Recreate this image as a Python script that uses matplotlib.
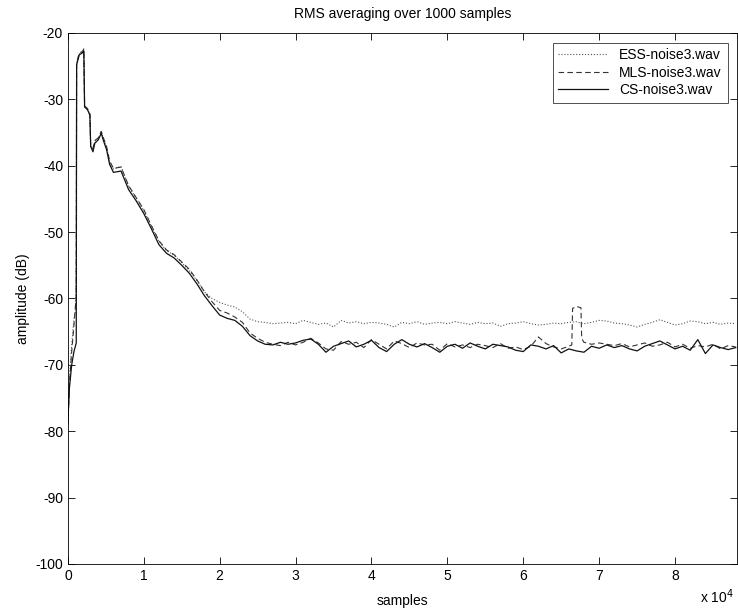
import matplotlib
matplotlib.use("Agg")
import matplotlib.pyplot as plt
import numpy as np

plt.rcParams["font.family"] = ["Liberation Sans", "DejaVu Sans"]
plt.rcParams["axes.unicode_minus"] = False

# start of each curve (samples 0 .. 5500), read by hand
cs_head_x = [0, 200, 500, 800, 1100, 1150, 1500, 1900, 2100, 2200, 2600, 2900, 3000, 3300, 3550, 4000, 4400, 4650, 5100, 5500]
cs_head_y = [-78.5, -73.5, -70.0, -68.0, -66.7, -24.8, -23.3, -23.0, -22.7, -31.1, -31.6, -32.4, -37.1, -37.9, -36.6, -36.1, -35.1, -36.1, -37.6, -39.8]

mls_head_x = [0, 200, 500, 800, 1000, 1100, 1150, 1500, 1900, 2100, 2200, 2600, 2900, 3000, 3300, 3550, 4000, 4400, 4650, 5100, 5500]
mls_head_y = [-79.0, -73.0, -68.0, -64.0, -61.0, -60.5, -24.5, -23.0, -22.8, -22.4, -31.0, -31.4, -32.2, -36.8, -37.4, -36.2, -35.8, -34.8, -35.7, -37.1, -39.3]

ess_head_x = [0, 200, 500, 800, 1000, 1100, 1150, 1500, 1900, 2100, 2200, 2600, 2900, 3000, 3300, 3550, 4000, 4400, 4650, 5100, 5500]
ess_head_y = [-79.0, -72.0, -67.0, -63.0, -62.0, -55.0, -24.5, -23.1, -22.9, -22.5, -31.2, -31.5, -32.3, -36.9, -37.5, -36.3, -35.9, -34.9, -35.8, -37.2, -39.4]

# rest of the curves, one value every 1000 samples from 6000 to 88000
tail_x = np.arange(6000, 89000, 1000)

cs_tail = [
    -41.0, -40.8, -43.6, -45.3, -47.2, -49.5, -51.9, -53.2, -53.9, -55.0,
    -56.2, -57.8, -59.6, -61.1, -62.5, -63.0, -63.3, -64.2, -65.6, -66.4,
    -66.9, -67.0, -66.6, -66.9, -66.7, -66.3, -66.1, -66.9, -68.1, -67.2,
    -66.8, -66.4, -67.3, -66.9, -66.3, -67.4, -68.0, -66.9, -66.2, -66.9,
    -67.3, -66.8, -67.4, -68.1, -67.2, -66.9, -67.5, -66.7, -67.2, -67.6,
    -66.9, -67.1, -67.3, -67.8, -68.0, -67.0, -67.2, -67.6, -67.1, -68.2,
    -67.6, -67.9, -68.1, -67.2, -67.5, -67.0, -67.4, -67.1, -67.6, -67.9,
    -67.2, -66.8, -66.4, -67.0, -67.6, -67.2, -67.8, -66.2, -68.3, -67.0,
    -67.4, -67.7, -67.4,
]

mls_tail = [
    -40.4, -40.2, -43.0, -44.8, -46.6, -49.0, -51.3, -52.7, -53.4, -54.5,
    -55.6, -57.2, -59.0, -60.5, -61.8, -62.2, -62.8, -63.6, -65.2, -66.0,
    -66.6, -66.9, -67.1, -66.6, -67.0, -66.6, -66.0, -66.7, -67.6, -67.8,
    -66.5, -66.9, -66.6, -67.4, -66.2, -66.9, -67.6, -66.4, -66.8, -67.4,
    -66.7, -67.0, -66.9, -67.8, -66.8, -67.3, -67.0, -67.4, -66.9, -67.1,
    -67.4, -66.8, -67.5, -67.3, -67.7, -67.2, -65.8, -66.8, -67.3, -67.6,
    -67.2, -61.2, -66.6, -66.9, -66.7, -66.9, -67.1, -66.8, -67.3, -67.0,
    -66.7, -67.2, -67.0, -66.6, -67.3, -66.9, -67.5, -67.1, -67.3, -66.9,
    -67.6, -67.1, -67.3,
]
# the glitch in the MLS curve near 6.7e4
mls_spike_x = [66400, 66500, 67600, 67700]
mls_spike_y = [-67.0, -61.5, -61.4, -66.0]

ess_tail = [
    -40.5, -40.1, -43.1, -44.9, -46.8, -49.1, -51.4, -52.8, -53.5, -54.6,
    -55.8, -57.3, -59.0, -60.0, -60.6, -61.0, -61.3, -62.0, -63.1, -63.5,
    -63.6, -63.8, -63.7, -63.6, -63.8, -63.3, -63.6, -63.9, -63.7, -64.3,
    -63.3, -63.7, -63.5, -63.8, -63.6, -63.7, -63.9, -64.3, -63.6, -63.8,
    -63.5, -63.9, -63.7, -63.6, -63.8, -63.5, -63.7, -63.9, -63.6, -63.8,
    -63.7, -64.2, -63.8, -63.7, -63.5, -63.8, -64.0, -63.9, -63.7, -63.8,
    -63.6, -63.5, -63.8, -63.6, -63.3, -63.4, -63.7, -63.8, -64.0, -64.3,
    -63.9, -63.6, -63.2, -63.6, -64.0, -63.8, -63.4, -63.5, -63.8, -63.6,
    -63.9, -63.7, -63.8,
]

x_ticks = [0, 10000, 20000, 30000, 40000, 50000, 60000, 70000, 80000]
x_tick_labels = ["0", "1", "2", "3", "4", "5", "6", "7", "8"]
y_ticks = [-100, -90, -80, -70, -60, -50, -40, -30, -20]


def join(head_x, head_y, tail_vals, extra_x=(), extra_y=()):
    x = np.concatenate([head_x, tail_x, extra_x])
    y = np.concatenate([head_y, tail_vals, extra_y])
    order = np.argsort(x, kind="stable")
    return x[order], y[order]


fig = plt.figure(figsize=(7.38, 6.11), dpi=100)
ax = fig.add_axes([0.092, 0.077, 0.907, 0.869])

x, y = join(ess_head_x, ess_head_y, ess_tail)
ax.plot(x, y, linestyle=":", color="#555555", linewidth=0.8, label="ESS-noise3.wav")
x, y = join(mls_head_x, mls_head_y, mls_tail, mls_spike_x, mls_spike_y)
ax.plot(x, y, linestyle=(0, (5, 3)), color="#333333", linewidth=0.8, label="MLS-noise3.wav")
x, y = join(cs_head_x, cs_head_y, cs_tail)
ax.plot(x, y, linestyle="-", color="#111111", linewidth=0.9, label="CS-noise3.wav")

ax.set_xlim(0, 88200)
ax.set_ylim(-100, -20)
ax.set_xticks(x_ticks)
ax.set_xticklabels(x_tick_labels)
ax.set_yticks(y_ticks)
ax.tick_params(direction="in", top=True, right=True, length=5, labelsize=10, width=0.6)
for spine in ax.spines.values():
    spine.set_linewidth(0.6)

ax.set_title("RMS averaging over 1000 samples", fontsize=10, pad=11)
ax.set_xlabel("samples", fontsize=10, labelpad=8)
ax.set_ylabel("amplitude (dB)", fontsize=10, labelpad=4)
fig.text(0.948, 0.008, r"x 10$^{4}$", fontsize=10, ha="left", va="bottom")

leg = ax.legend(loc="upper right", fontsize=10, frameon=True, fancybox=False,
                borderaxespad=0.7, handlelength=3.6, labelspacing=0.25,
                borderpad=0.4)
leg.get_frame().set_edgecolor("black")
leg.get_frame().set_linewidth(0.6)

fig.savefig("out.png", dpi=100)
